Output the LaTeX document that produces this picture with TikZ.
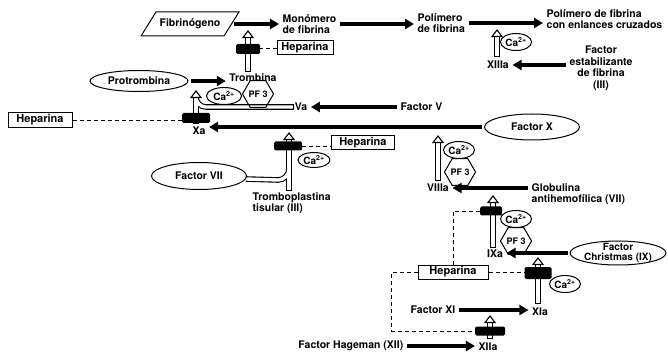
\documentclass[tikz,border=0pt]{standalone}
\usepackage{fontspec}
\setmainfont{TeX Gyre Heros}
\usetikzlibrary{shapes.geometric,arrows.meta,calc}
\begin{document}
\begin{tikzpicture}[x=1pt,y=-1pt,
 every node/.style={font=\bfseries\fontsize{10.5}{11.5}\selectfont, inner sep=1.5pt},
 fat/.style={line width=3.6pt, -{Triangle[length=9pt,width=10pt]}, shorten <=2pt, shorten >=2pt},
 hout/.style={line width=5.6pt},
 hin/.style={line width=3.4pt, white},
 headst/.style={line width=1.1pt, fill=white, line join=miter},
 bar/.style={fill=black, rounded corners=1.5pt, minimum width=27pt, minimum height=10pt, inner sep=0pt},
 hep/.style={draw, line width=1pt, minimum height=14pt, minimum width=56pt, inner sep=1pt, font=\bfseries\fontsize{11}{11}\selectfont},
 ell/.style={ellipse, draw, line width=1pt, inner sep=0pt},
 ca/.style={ellipse, draw, line width=1pt, inner sep=0pt, minimum width=31pt, minimum height=17pt, font=\bfseries\fontsize{10}{10}\selectfont},
 pf/.style={regular polygon, regular polygon sides=6, draw, line width=1pt, inner sep=0pt, minimum size=26pt, font=\bfseries\fontsize{9}{9}\selectfont},
 hd/.style={line width=0.9pt, dash pattern=on 4pt off 3pt}
]
\useasboundingbox (0,0) rectangle (668,352);

% hollow arrow end points
\coordinate (h1b) at (248,72);  \coordinate (h1t) at (248,31);
\coordinate (h2b) at (196,124); \coordinate (h2t) at (196,91);
\coordinate (h3b) at (289,191); \coordinate (h3t) at (289,133);
\coordinate (h4b) at (438,181); \coordinate (h4t) at (438,136);
\coordinate (h5b) at (493,248); \coordinate (h5t) at (493,196);
\coordinate (h6b) at (538,304); \coordinate (h6t) at (538,258);
\coordinate (h7b) at (490,339); \coordinate (h7t) at (490,316);
\coordinate (h8b) at (497,57);  \coordinate (h8t) at (497,30);
\coordinate (vaj) at (294,107);
\coordinate (f7j) at (246,179);

% outer (black) parts
\foreach \b/\t in {h1b/h1t,h2b/h2t,h3b/h3t,h4b/h4t,h5b/h5t,h6b/h6t,h7b/h7t,h8b/h8t}
  \draw[hout] (\b) -- ($(\t)+(0,5)$);
\draw[hout] (vaj) -- (206,107) .. controls (200.5,107) and (196,102.5) .. (196,97);
\draw[hout] (f7j) -- (278,180) .. controls (284,180) and (289,175) .. (289,169);
% inner (white) parts
\foreach \b/\t in {h1b/h1t,h2b/h2t,h3b/h3t,h4b/h4t,h5b/h5t,h6b/h6t,h7b/h7t,h8b/h8t}
  \draw[hin, shorten <=1.1pt] (\b) -- ($(\t)+(0,5)$);
\draw[hin, shorten <=1.1pt] (vaj) -- (206,107) .. controls (200.5,107) and (196,102.5) .. (196,97);
\draw[hin] (f7j) -- (278,180) .. controls (284,180) and (289,175) .. (289,169);
% heads
\foreach \t in {h1t,h2t,h3t,h4t,h5t,h6t,h7t,h8t}
  \draw[headst] ($(\t)+(-5,6.5)$) -- (\t) -- ($(\t)+(5,6.5)$) -- cycle;

% nodes
\node (fib) at (190,24) {Fibrinógeno};
\draw[line width=1pt, line join=miter] ($(fib.center)+(-34,-12)$) -- ($(fib.center)+(49,-12)$)
   -- ($(fib.center)+(34,12)$) -- ($(fib.center)+(-49,12)$) -- cycle;
\coordinate (fibR) at ($(fib.center)+(41.5,0)$);
\node[anchor=west, align=left] (mono) at (281,24) {Monómero\\de fibrina};
\node[anchor=west, align=left] (poly) at (416,23) {Polímero\\de fibrina};
\node[anchor=west, align=left] (polyx) at (545,19) {Polímero de fibrina\\con enlances cruzados};
\node (tromb) at (253,78) {Trombina};
\node[ell, minimum width=98pt, minimum height=21pt] (prot) at (139,81) {Protrombina};
\node[hep] (hep1) at (305,48) {Heparina};
\node[bar, minimum width=24pt] (bar1) at (248,49) {};
\node (xiiia) at (498,65) {XIIIa};
\node[ca] (ca1) at (516,42) {Ca\textsuperscript{2+}};
\node[align=center] (fsf) at (601,68) {Factor\\estabilizante\\de fibrina\\(III)};

\node[ca, minimum width=35pt] (ca2) at (224,96) {Ca\textsuperscript{2+}};
\node[pf] (pf1) at (258,94) {PF 3};
\node (va) at (301,107) {Va};
\node[anchor=west] (fv) at (399,107) {Factor V};
\node[hep, minimum width=64pt, minimum height=15pt] (hep0) at (40,120) {Heparina};
\node[bar, minimum width=28pt] (bar0) at (196,118) {};
\node (xa) at (199,131) {Xa};
\node[ell, minimum width=95pt, minimum height=26pt] (fx) at (532,127) {Factor X};

\node[hep, minimum width=63pt] (hep2) at (363,143) {Heparina};
\node[bar, minimum width=28pt, minimum height=9pt] (bar2) at (288,146) {};
\node[ca, minimum width=32pt, minimum height=15pt] (ca3) at (314,160) {Ca\textsuperscript{2+}};
\node[ell, minimum width=95pt, minimum height=27pt] (fvii) at (199,176) {Factor VII};
\node[anchor=west, align=left] (trombo) at (251,203) {Tromboplastina\\tisular (III)};

\node (viiia) at (438,188) {VIIIa};
\node[ca] (ca4) at (459,150) {Ca\textsuperscript{2+}};
\node[pf] (pf2) at (460,172) {PF 3};
\node[anchor=west, align=left] (glob) at (530,194) {Globulina\\antihemofílica (VII)};

\node (ixa) at (495,254) {IXa};
\node[bar, minimum width=22pt, minimum height=9pt] (bar3) at (491,211) {};
\node[ca] (ca5) at (516,219) {Ca\textsuperscript{2+}};
\node[pf] (pf3) at (516,241) {PF 3};
\node[hep, minimum width=70pt] (hep3) at (453,272) {Heparina};
\node[ell, minimum width=96pt, minimum height=24pt] (fc) at (618,253) {};
\node[align=center, inner sep=0pt, font=\bfseries\fontsize{10}{10}\selectfont] (fct) at (fc) {Factor\\Christmas (IX)};

\node[bar, minimum width=27pt, minimum height=12pt] (bar4) at (538,273) {};
\node[ca] (ca6) at (565,284) {Ca\textsuperscript{2+}};
\node (xia) at (540,312) {XIa};
\node (fxi) at (433,310) {Factor XI};
\node[bar, minimum width=30pt, minimum height=9pt] (bar5) at (490,331) {};
\node[anchor=east] (fhag) at (405,346) {Factor Hageman (XII)};
\node (xiia) at (488,347) {XIIa};

% thick arrows
\draw[fat] (fibR) -- (fibR -| mono.west);
\draw[fat] (mono.east) -- (mono.east -| poly.west);
\draw[fat] (poly.east) -- (poly.east -| polyx.west);
\draw[fat] (prot.east) -- (prot.east -| tromb.west);
\draw[fat] (fsf.west |- xiiia.east) -- (xiiia.east);
\draw[fat] (fv.west) -- (fv.west -| va.east);
\draw[fat, line width=4.2pt] (fx.west) -- (fx.west -| xa.east);
\draw[fat] (glob.west |- viiia.east) -- (viiia.east);
\draw[fat] (fc.west) -- (fc.west -| ixa.east);
\draw[fat] (fxi.east) -- (fxi.east -| xia.west);
\draw[fat] (fhag.east) -- (fhag.east -| xiia.west);

% dashed inhibitor links
\draw[hd] (hep1.west) -- (hep1.west -| bar1.east);
\draw[hd] (hep0.east) -- (hep0.east -| bar0.west);
\draw[hd] (bar2.east) -- (bar2.east -| hep2.west);
\draw[hd] (bar3.west) -| (hep3.north);
\draw[hd] (hep3.east) -- (hep3.east -| bar4.west);
\draw[hd] (hep3.west) -- ++(-26,0) |- (bar5.west);
\end{tikzpicture}
\end{document}
